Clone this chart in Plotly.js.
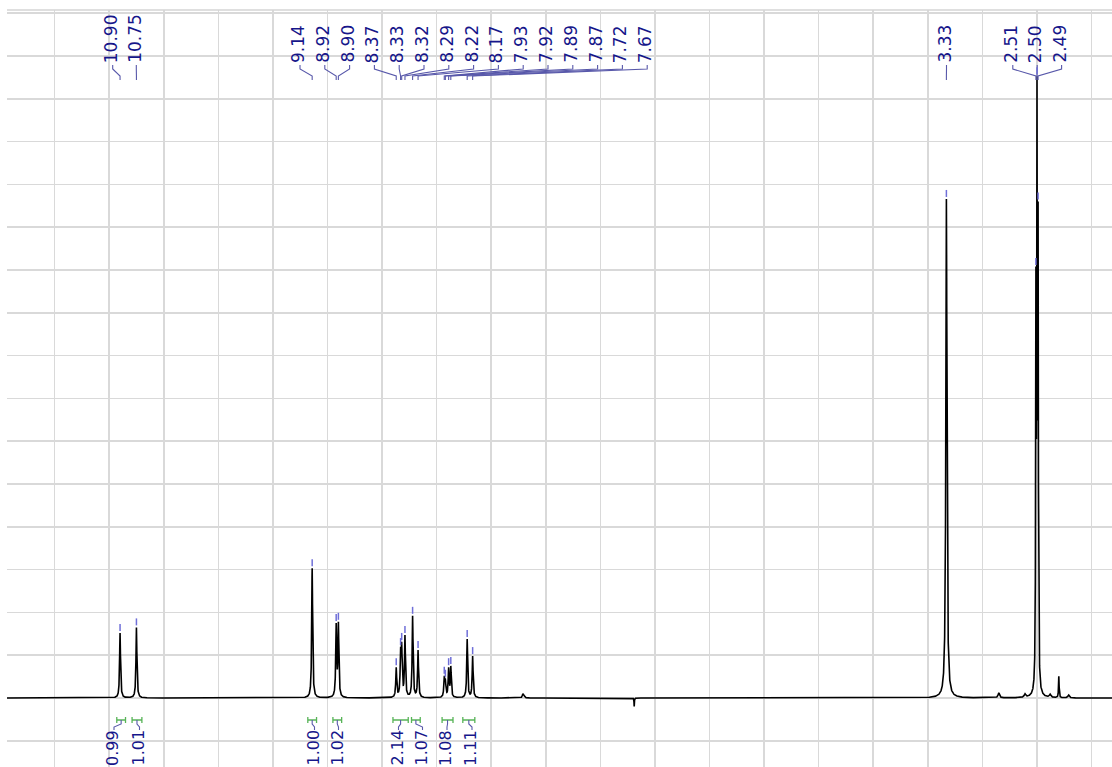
<!DOCTYPE html>
<html>
<head>
<meta charset="utf-8">
<script src="https://cdn.plot.ly/plotly-3.0.1.min.js"></script>
<style>
  html, body { margin: 0; padding: 0; background: #ffffff; }
  #spectrum { width: 1112px; height: 767px; }
</style>
</head>
<body>
<div id="spectrum"></div>
<script>
// 1H NMR spectrum (DMSO-d6): picked peaks, integrals and a few minor signals.

// Picked peaks: chemical shift (ppm), peak height (grid units), half width at half height (ppm)
const peakPpm    = [10.90, 10.75, 9.14, 8.92, 8.90, 8.37, 8.33, 8.32, 8.29, 8.22, 8.17,
                    7.93, 7.92, 7.89, 7.87, 7.72, 7.67, 3.33, 2.51, 2.50, 2.49];
const peakHeight = [1.52, 1.65, 3.03, 1.75, 1.78, 0.72, 1.19, 1.31, 1.47, 1.92, 1.12,
                    0.52, 0.45, 0.72, 0.75, 1.38, 0.98, 11.66, 10.07, 14.53, 11.60];
const peakHwhm   = [0.005, 0.005, 0.005, 0.005, 0.005, 0.005, 0.005, 0.005, 0.005, 0.005, 0.005,
                    0.005, 0.005, 0.005, 0.005, 0.005, 0.005, 0.006, 0.003, 0.003, 0.003];

// Unpicked minor signals (impurities, phase artefact)
const minorPpm    = [2.30, 7.21, 7.20, 6.19, 2.85, 2.61, 2.38, 2.21];
const minorHeight = [0.51, 0.10, 0.08, -0.20, 0.12, 0.10, 0.09, 0.07];
const minorHwhm   = [0.003, 0.006, 0.006, 0.002, 0.008, 0.008, 0.008, 0.008];

// Integral regions (ppm) and their values
const integralFrom  = [10.93, 10.79, 9.18, 8.95, 8.40, 8.23, 7.95, 7.76];
const integralTo    = [10.85, 10.70, 9.10, 8.87, 8.26, 8.15, 7.85, 7.65];
const integralValue = ['0.99', '1.01', '1.00', '1.02', '2.14', '1.07', '1.08', '1.11'];

// ---- axis geometry ----
const X_LEFT = 11.9357, X_RIGHT = 1.8129;
const Y_BOTTOM = -1.612, Y_TOP = 16.075;
const PLOT = { l: 7, t: 10, w: 1105, h: 757 };

const ppmToPx = p => PLOT.l + (X_LEFT - p) * PLOT.w / (X_LEFT - X_RIGHT);
const pxToPaperX = px => (px - PLOT.l) / PLOT.w;
const pyToPaperY = py => 1 - (py - PLOT.t) / PLOT.h;
const unitsPerPx = (Y_TOP - Y_BOTTOM) / PLOT.h;

// ---- label placement (pixel columns of the rotated labels) ----
const peakLabelGroups = [
  { count: 2,  start: 110.7,  step: 23.6 },
  { count: 15, start: 298.0,  step: 24.8 },
  { count: 1,  start: 944.5,  step: 0 },
  { count: 3,  start: 1010.8, step: 24.4 }
];
const integralLabelPx = [112, 137.5, 312.5, 336.5, 396.5, 420.5, 445, 470];

// ---- build the spectrum from Lorentzian lines ----
const allPpm = peakPpm.concat(minorPpm);
const allTarget = peakHeight.concat(minorHeight);
const allHwhm = peakHwhm.concat(minorHwhm);
const lor = (d, w) => 1 / (1 + (d / w) * (d / w));

// amplitudes so that the summed curve reaches each read height at its line position
let amp = allTarget.slice();
for (let it = 0; it < 200; it++) {
  amp = amp.map((_, i) => {
    let other = 0;
    for (let j = 0; j < amp.length; j++) {
      if (j !== i) other += amp[j] * lor(allPpm[i] - allPpm[j], allHwhm[j]);
    }
    return allTarget[i] - other;
  });
}

const xs = [];
for (let p = X_RIGHT; p <= X_LEFT; p += 0.0005) xs.push(p);
allPpm.forEach(p => xs.push(p));
xs.sort((a, b) => b - a);
const ys = xs.map(p => {
  let s = 0;
  for (let j = 0; j < allPpm.length; j++) s += amp[j] * lor(p - allPpm[j], allHwhm[j]);
  return s;
});

const trace = {
  x: xs, y: ys, type: 'scatter', mode: 'lines',
  line: { color: '#000000', width: 1.6 },
  hoverinfo: 'skip'
};

// ---- annotations and shapes ----
const LABEL_BLUE = '#16168a';
const LINK_BLUE = '#5858aa';
const TICK_BLUE = '#6f6fd8';
const INT_GREEN = '#58b458';
const FONT = 'DejaVu Sans, Verdana, sans-serif';

const annotations = [];
const shapes = [];

// plot frame top edge
shapes.push({ type: 'line', xref: 'paper', yref: 'paper', x0: 0, x1: 1, y0: 1, y1: 1,
              line: { color: '#d4d4d4', width: 1.5 } });

// peak labels with connectors
const labelPx = [];
peakLabelGroups.forEach(g => { for (let k = 0; k < g.count; k++) labelPx.push(g.start + k * g.step); });

peakPpm.forEach((p, i) => {
  const lx = labelPx[i];
  const px = ppmToPx(p);
  annotations.push({
    xref: 'paper', yref: 'paper', x: pxToPaperX(lx), y: pyToPaperY(65),
    xanchor: 'center', yanchor: 'bottom', showarrow: false, textangle: -90,
    text: p.toFixed(2), font: { family: FONT, size: 17, color: LABEL_BLUE }
  });
  const cx = lx + 2;
  shapes.push({
    type: 'path', xref: 'paper', yref: 'paper',
    path: `M ${pxToPaperX(cx)} ${pyToPaperY(65)} L ${pxToPaperX(cx)} ${pyToPaperY(69)} ` +
          `L ${pxToPaperX(px)} ${pyToPaperY(76)} L ${pxToPaperX(px)} ${pyToPaperY(80)}`,
    line: { color: LINK_BLUE, width: 1.1 }
  });
  // small marker above the peak top
  const h = peakHeight[i];
  shapes.push({
    type: 'line', xref: 'x', yref: 'y', x0: p, x1: p,
    y0: h + 2 * unitsPerPx, y1: h + 9 * unitsPerPx,
    line: { color: TICK_BLUE, width: 1.5 }
  });
});

// integrals: bracket, connector, value
integralFrom.forEach((a, i) => {
  const x0 = ppmToPx(a), x1 = ppmToPx(integralTo[i]);
  const yb = 720;
  shapes.push({
    type: 'path', xref: 'paper', yref: 'paper',
    path: `M ${pxToPaperX(x0)} ${pyToPaperY(yb - 3)} L ${pxToPaperX(x0)} ${pyToPaperY(yb + 3)} ` +
          `M ${pxToPaperX(x0)} ${pyToPaperY(yb)} L ${pxToPaperX(x1)} ${pyToPaperY(yb)} ` +
          `M ${pxToPaperX(x1)} ${pyToPaperY(yb - 3)} L ${pxToPaperX(x1)} ${pyToPaperY(yb + 3)}`,
    line: { color: INT_GREEN, width: 1.3 }
  });
  const cx = (x0 + x1) / 2;
  const lx = integralLabelPx[i];
  shapes.push({
    type: 'path', xref: 'paper', yref: 'paper',
    path: `M ${pxToPaperX(cx)} ${pyToPaperY(yb)} L ${pxToPaperX(cx)} ${pyToPaperY(724)} ` +
          `L ${pxToPaperX(lx + 2)} ${pyToPaperY(727)} L ${pxToPaperX(lx + 2)} ${pyToPaperY(730)}`,
    line: { color: LINK_BLUE, width: 1.1 }
  });
  annotations.push({
    xref: 'paper', yref: 'paper', x: pxToPaperX(lx), y: pyToPaperY(728),
    xanchor: 'center', yanchor: 'top', showarrow: false, textangle: -90,
    text: integralValue[i], font: { family: FONT, size: 16, color: LABEL_BLUE }
  });
});

const layout = {
  width: 1112, height: 767,
  margin: { l: PLOT.l, r: 0, t: PLOT.t, b: 0, pad: 0 },
  paper_bgcolor: '#ffffff', plot_bgcolor: '#ffffff',
  showlegend: false,
  xaxis: {
    range: [X_LEFT, X_RIGHT], autorange: false,
    tick0: 0, dtick: 0.5, showticklabels: false, ticks: '',
    showgrid: true, gridcolor: '#d9d9d9', gridwidth: 1.6,
    zeroline: false, showline: false
  },
  yaxis: {
    range: [Y_BOTTOM, Y_TOP], autorange: false,
    tick0: 0, dtick: 1, showticklabels: false, ticks: '',
    showgrid: true, gridcolor: '#d9d9d9', gridwidth: 1.6,
    zeroline: false, showline: false
  },
  annotations: annotations,
  shapes: shapes
};

Plotly.newPlot('spectrum', [trace], layout, { displayModeBar: false, staticPlot: true });
</script>
</body>
</html>
